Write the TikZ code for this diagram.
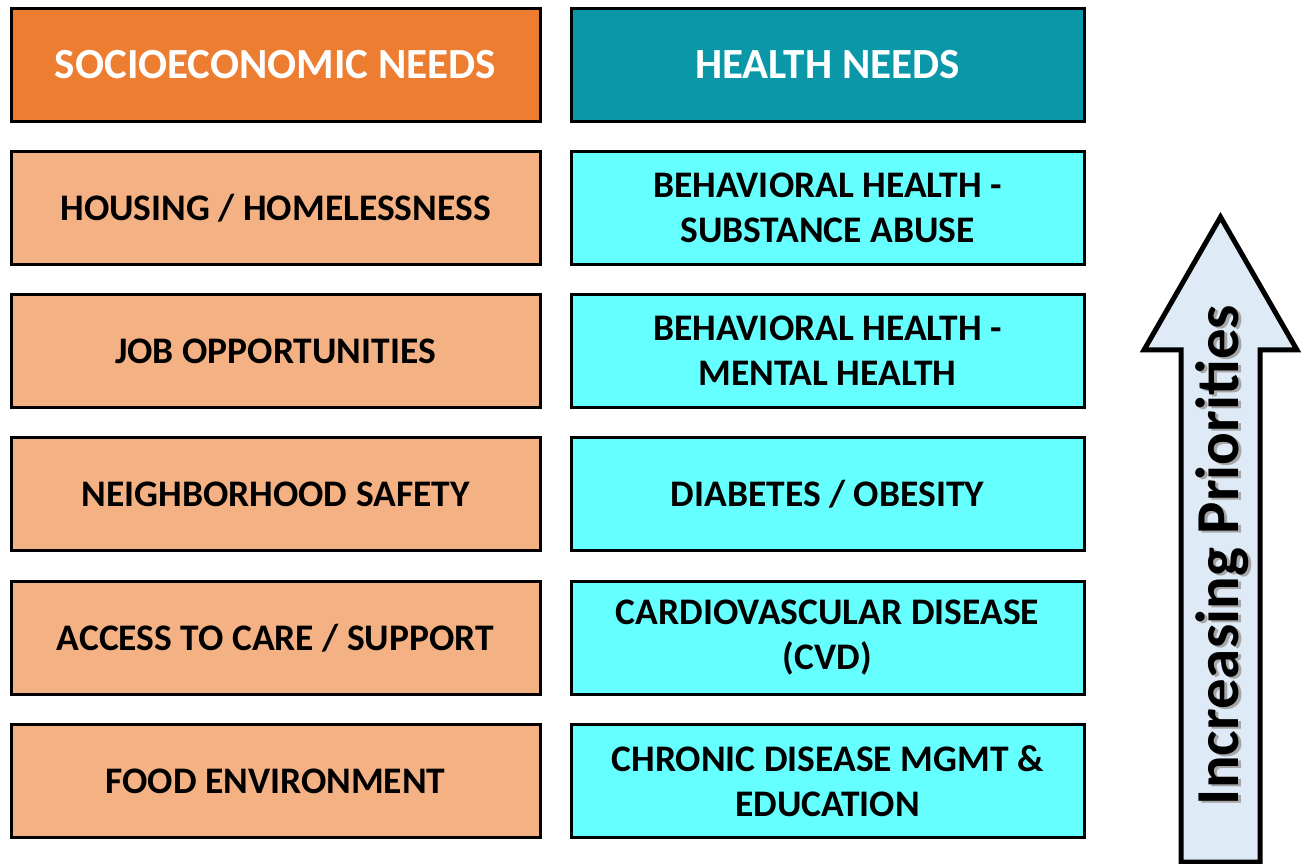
\documentclass[tikz,border=0pt]{standalone}
\usepackage{fontspec}
\setmainfont{Carlito}
\begin{document}
\begin{tikzpicture}[x=1pt,y=1pt,
  box/.style={draw=black,line width=3pt,minimum width=529pt,minimum height=113pt,inner sep=0pt,align=center,
    font=\fontsize{37.5}{45}\selectfont\bfseries},
  lhead/.style={box,fill=orangehead,text=white,font=\fontsize{43}{50}\selectfont\bfseries},
  rhead/.style={lhead,fill=tealhead,minimum width=513pt},
  lrow/.style={box,fill=orangelight},
  rrow/.style={box,minimum width=513pt,fill=cyanlight},
  arrowshape/.style={draw=black,line width=5pt,fill=arrowfill,line join=miter},
  arrowtext/.style={rotate=90,font=\fontsize{61}{70}\selectfont\bfseries}
]
\definecolor{orangehead}{HTML}{ED7D31}
\definecolor{tealhead}{HTML}{0A98A8}
\definecolor{orangelight}{HTML}{F4B183}
\definecolor{cyanlight}{HTML}{66FFFF}
\definecolor{arrowfill}{HTML}{DEEBF7}
\definecolor{shadowgray}{HTML}{A6A6A6}
\useasboundingbox (0,0) rectangle (1301,863);
% left column
\node[lhead] (sh) at (275.5,798) {SOCIOECONOMIC NEEDS};
\node[lrow] (s1) at (275.5,655) {HOUSING / HOMELESSNESS};
\node[lrow] (s2) at (275.5,512) {JOB OPPORTUNITIES};
\node[lrow] (s3) at (275.5,369) {NEIGHBORHOOD SAFETY};
\node[lrow] (s4) at (275.5,225) {ACCESS TO CARE / SUPPORT};
\node[lrow] (s5) at (275.5,82) {FOOD ENVIRONMENT};
% right column
\node[rhead] (hh) at (827.5,798) {HEALTH NEEDS};
\node[rrow] (h1) at (827.5,655) {BEHAVIORAL HEALTH -\\SUBSTANCE ABUSE};
\node[rrow] (h2) at (827.5,512) {BEHAVIORAL HEALTH -\\MENTAL HEALTH};
\node[rrow] (h3) at (827.5,369) {DIABETES / OBESITY};
\node[rrow] (h4) at (827.5,225) {CARDIOVASCULAR DISEASE\\(CVD)};
\node[rrow] (h5) at (827.5,82) {CHRONIC DISEASE MGMT \&\\EDUCATION};
% arrow
\draw[arrowshape] (1181,1) -- (1181,513) -- (1144,513) -- (1220.5,646) -- (1297,513) -- (1260,513) -- (1260,1) -- cycle;
\node[arrowtext,text=shadowgray] (ats) at (1225,306) {Increasing Priorities};
\node[arrowtext] (at) at (1222,308) {Increasing Priorities};
\end{tikzpicture}
\end{document}
